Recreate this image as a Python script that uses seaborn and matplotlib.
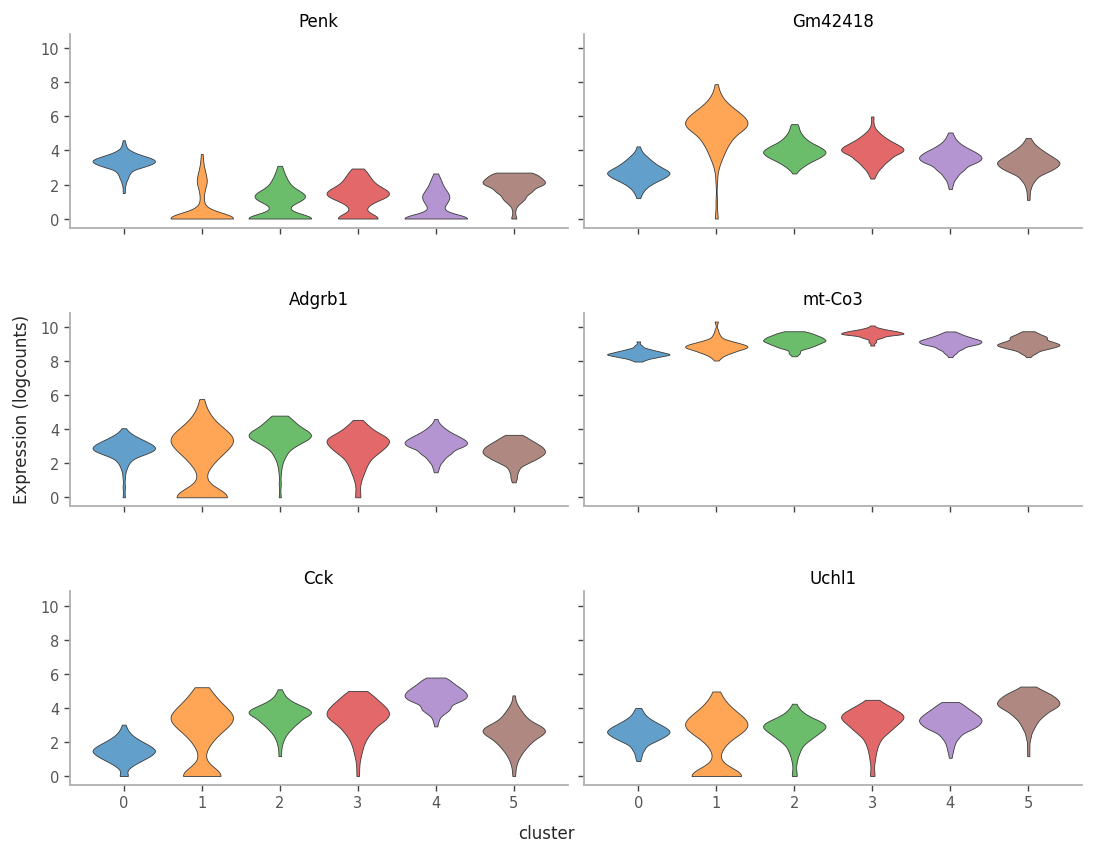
import numpy as np
import pandas as pd
import matplotlib
matplotlib.use("Agg")
import matplotlib.pyplot as plt
import seaborn as sns

genes = ["Penk", "Gm42418", "Adgrb1", "mt-Co3", "Cck", "Uchl1"]
clusters = ["0", "1", "2", "3", "4", "5"]

# each violin: (logcount value, number of cells)
penk = [
    [(1.5, 1), (1.8, 1), (2.1, 2), (2.4, 4), (2.7, 6), (3.0, 12), (3.2, 18), (3.4, 22), (3.6, 16), (3.8, 8), (4.0, 4), (4.3, 2), (4.6, 1)],
    [(0, 60), (0.3, 6), (0.6, 3), (1.0, 2), (1.5, 3), (2.0, 5), (2.3, 5), (2.7, 4), (3.1, 2), (3.5, 1), (3.8, 1)],
    [(0, 30), (0.5, 5), (1.0, 10), (1.3, 14), (1.6, 10), (2.0, 6), (2.4, 4), (2.8, 2), (3.1, 1)],
    [(0, 18), (0.4, 3), (0.8, 6), (1.2, 14), (1.5, 16), (1.8, 12), (2.2, 9), (2.6, 6), (2.94, 3)],
    [(0, 35), (0.5, 4), (0.9, 8), (1.3, 11), (1.7, 7), (2.1, 4), (2.4, 2), (2.65, 1)],
    [(0, 2), (0.5, 1), (0.9, 3), (1.2, 7), (1.6, 12), (2.0, 18), (2.3, 15), (2.6, 10), (2.7, 4)],
]
gm42418 = [
    [(1.2, 1), (1.5, 2), (1.8, 4), (2.1, 8), (2.4, 14), (2.7, 18), (3.0, 12), (3.3, 8), (3.6, 5), (3.9, 2), (4.24, 1)],
    [(0, 2), (1.0, 1), (2.2, 1), (3.0, 2), (3.5, 4), (4.0, 8), (4.6, 14), (5.2, 20), (5.6, 22), (6.0, 18), (6.4, 12), (6.8, 6), (7.2, 3), (7.6, 1), (7.9, 1)],
    [(2.65, 1), (3.0, 4), (3.3, 8), (3.6, 14), (3.9, 18), (4.2, 14), (4.5, 8), (4.8, 5), (5.1, 3), (5.4, 2), (5.55, 1)],
    [(2.35, 1), (2.7, 3), (3.1, 7), (3.5, 12), (3.9, 18), (4.2, 16), (4.5, 10), (4.8, 6), (5.1, 3), (5.5, 1), (6.0, 1)],
    [(1.73, 1), (2.1, 2), (2.5, 5), (2.9, 10), (3.3, 16), (3.6, 18), (3.9, 14), (4.2, 8), (4.5, 4), (4.8, 2), (5.06, 1)],
    [(1.1, 1), (1.5, 1), (1.9, 2), (2.3, 5), (2.7, 10), (3.0, 15), (3.3, 18), (3.6, 13), (3.9, 9), (4.2, 5), (4.5, 2), (4.73, 1)],
]
adgrb1 = [
    [(0, 1), (0.6, 1), (1.2, 1), (1.7, 2), (2.1, 4), (2.5, 10), (2.8, 18), (3.1, 15), (3.4, 9), (3.7, 4), (4.06, 1)],
    [(0, 30), (0.4, 2), (0.9, 1), (1.4, 2), (2.0, 6), (2.5, 10), (3.0, 14), (3.4, 16), (3.8, 13), (4.3, 8), (4.8, 4), (5.3, 2), (5.78, 1)],
    [(0, 1), (0.8, 1), (1.5, 1), (2.0, 2), (2.5, 5), (3.0, 10), (3.4, 16), (3.7, 16), (4.0, 13), (4.4, 10), (4.8, 5)],
    [(0, 2), (0.5, 1), (1.0, 2), (1.5, 4), (2.0, 6), (2.5, 9), (2.9, 13), (3.3, 15), (3.6, 11), (4.0, 6), (4.3, 3), (4.55, 1)],
    [(1.47, 1), (1.8, 2), (2.2, 5), (2.6, 10), (3.0, 16), (3.3, 16), (3.6, 11), (3.9, 6), (4.2, 3), (4.6, 1)],
    [(0.88, 1), (1.2, 2), (1.6, 3), (2.0, 7), (2.3, 12), (2.6, 16), (2.9, 15), (3.2, 11), (3.5, 6), (3.67, 2)],
]
mt_co3 = [
    [(7.98, 1), (8.1, 3), (8.25, 8), (8.4, 14), (8.55, 9), (8.7, 5), (8.9, 2), (9.16, 1)],
    [(8.04, 1), (8.3, 3), (8.55, 8), (8.8, 14), (9.0, 10), (9.2, 5), (9.5, 2), (9.8, 1), (10.33, 1)],
    [(8.29, 1), (8.5, 3), (8.8, 7), (9.0, 10), (9.2, 14), (9.4, 12), (9.6, 8), (9.76, 3)],
    [(8.92, 1), (9.15, 2), (9.4, 5), (9.6, 14), (9.75, 10), (9.9, 4), (10.1, 1)],
    [(8.24, 1), (8.5, 3), (8.75, 6), (9.0, 12), (9.2, 13), (9.4, 8), (9.6, 4), (9.75, 1)],
    [(8.24, 1), (8.5, 4), (8.75, 9), (8.95, 14), (9.15, 10), (9.4, 9), (9.6, 4), (9.76, 2)],
]
cck = [
    [(0, 3), (0.35, 1), (0.6, 4), (0.9, 9), (1.2, 14), (1.5, 17), (1.8, 13), (2.1, 8), (2.4, 4), (2.7, 2), (3.02, 1)],
    [(0, 22), (0.4, 2), (0.9, 1), (1.5, 2), (2.0, 5), (2.5, 9), (3.0, 14), (3.4, 16), (3.8, 14), (4.3, 10), (4.8, 6), (5.22, 3)],
    [(1.17, 1), (1.6, 1), (2.0, 2), (2.4, 4), (2.8, 8), (3.2, 13), (3.6, 18), (3.9, 16), (4.2, 9), (4.5, 4), (4.8, 2), (5.1, 1)],
    [(0, 1), (0.6, 1), (1.2, 2), (1.7, 3), (2.2, 5), (2.7, 9), (3.2, 13), (3.6, 16), (4.0, 14), (4.4, 10), (4.8, 6), (5.0, 2)],
    [(2.92, 1), (3.3, 2), (3.7, 5), (4.0, 9), (4.4, 14), (4.7, 17), (5.0, 15), (5.3, 11), (5.6, 7), (5.79, 3)],
    [(0, 1), (0.4, 1), (0.8, 2), (1.2, 4), (1.6, 7), (2.0, 11), (2.4, 15), (2.7, 16), (3.0, 13), (3.4, 8), (3.8, 5), (4.2, 2), (4.74, 1)],
]
uchl1 = [
    [(0.88, 1), (1.2, 2), (1.6, 4), (2.0, 8), (2.3, 13), (2.6, 17), (2.9, 13), (3.2, 8), (3.5, 4), (3.8, 2), (4.0, 1)],
    [(0, 30), (0.4, 2), (0.9, 1), (1.4, 2), (1.9, 5), (2.4, 10), (2.8, 14), (3.1, 15), (3.5, 12), (3.9, 8), (4.4, 5), (4.97, 2)],
    [(0, 2), (0.5, 1), (1.0, 2), (1.5, 4), (2.0, 7), (2.4, 12), (2.8, 16), (3.1, 13), (3.4, 8), (3.8, 4), (4.25, 1)],
    [(0, 2), (0.5, 1), (1.0, 2), (1.5, 3), (2.0, 5), (2.5, 9), (2.9, 13), (3.3, 16), (3.6, 15), (3.9, 10), (4.2, 6), (4.48, 2)],
    [(1.07, 1), (1.5, 2), (1.9, 3), (2.3, 6), (2.7, 11), (3.0, 15), (3.3, 17), (3.6, 14), (3.9, 10), (4.2, 6), (4.35, 2)],
    [(1.17, 1), (1.7, 1), (2.3, 2), (2.8, 4), (3.2, 6), (3.6, 11), (4.0, 16), (4.3, 17), (4.6, 14), (4.9, 11), (5.26, 4)],
]

gene_data = dict(zip(genes, [penk, gm42418, adgrb1, mt_co3, cck, uchl1]))

rows = []
for g in genes:
    for cl, pairs in zip(clusters, gene_data[g]):
        for v, n in pairs:
            rows += [(g, cl, v)] * n
df = pd.DataFrame(rows, columns=["gene", "cluster", "logcounts"])

# tab10 blended with white (alpha 0.7 look)
base = sns.color_palette("tab10", 6)
pal = {cl: tuple(0.7 * np.array(c) + 0.3) for cl, c in zip(clusters, base)}

sns.set_style("white")
plt.rcParams['font.family'] = ['DejaVu Sans']

fig, axes = plt.subplots(3, 2, figsize=(10.93, 8.53), dpi=100, sharex=True, sharey=True)
fig.subplots_adjust(left=0.064, right=0.99, top=0.959, bottom=0.0785, wspace=0.034, hspace=0.44)

for ax, g in zip(axes.flat, genes):
    sub = df[df["gene"] == g]
    sns.violinplot(data=sub, x="cluster", y="logcounts", hue="cluster", order=clusters,
                   hue_order=clusters, palette=pal, saturation=1, cut=0, bw_adjust=0.75,
                   density_norm="width", inner=None, width=0.8, linewidth=0.6,
                   linecolor="#3a3a3a", legend=False, ax=ax)
    ax.set_title(g, fontsize=12, color="black")
    ax.set_xlabel("")
    ax.set_ylabel("")
    for s in ["top", "right"]:
        ax.spines[s].set_visible(False)
    for s in ["left", "bottom"]:
        ax.spines[s].set_color("#b0b0b0")
        ax.spines[s].set_linewidth(1.3)
    ax.tick_params(axis="both", which="both", left=True, bottom=True, length=4, width=1,
                   color="#444444", labelcolor="#555555", labelsize=10.5)

axes[0, 0].set_xlim(-0.69, 5.69)
axes[0, 0].set_ylim(-0.53, 10.85)
axes[0, 0].set_yticks([0, 2, 4, 6, 8, 10])

fig.supxlabel("cluster", fontsize=12, x=0.5, y=0.012)
fig.supylabel("Expression (logcounts)", fontsize=12, x=0.012, y=0.52)

fig.savefig("out.png", dpi=100)
